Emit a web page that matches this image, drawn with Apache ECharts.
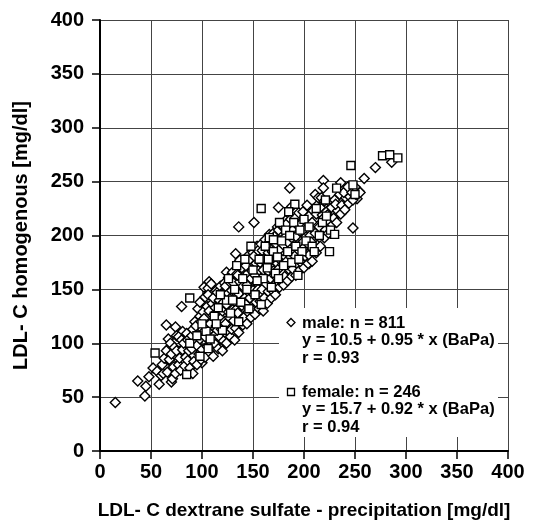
<!DOCTYPE html>
<html>
<head>
<meta charset="utf-8">
<script src="https://cdn.jsdelivr.net/npm/echarts@6/dist/echarts.min.js"></script>
<style>
  html, body { margin: 0; padding: 0; background: #fff; }
  #chart { width: 554px; height: 525px; }
</style>
</head>
<body>
<div id="chart"></div>
<script>
// axis ticks
var axisMin = 0
var axisMax = 400
var axisStep = 50

// male points
var malePoints = [
  [15,45],[37,65],[44,51],[45,60],[48,69],[52,77],[56,74],[58,62],[60,70],[65,117],
  [67,104],[67,95],[70,82],[70,64],[74,115],[75,107],[80,134],[81,111],[83,97],[96,132],
  [100,82],[102,152],[107,157],[124,166],[133,183],[136,208],[151,212],[175,226],[186,244],[188,227],
  [205,174],[211,238],[219,251],[219,244],[236,249],[238,222],[248,207],[248,242],[259,253],[270,263],
  [286,268],[252,234],[254,241],
  [62,72],[61,80],[63,86],[66,73],[68,85],[65,93],[69,100],[71,67],[72,78],[70,90],
  [73,96],[74,72],[77,80],[75,93],[77,106],[79,75],[78,86],[81,94],[80,103],[83,79],
  [84,87],[82,100],[85,109],[86,84],[88,77],[87,93],[86,103],[90,107],[91,72],[92,83],
  [90,95],[94,102],[91,113],[93,120],[95,80],[97,90],[95,98],[96,108],[94,116],[98,125],
  [99,85],[100,94],[98,104],[102,111],[99,120],[101,129],[98,138],[103,87],[105,97],[103,106],
  [104,115],[102,123],[105,134],[103,143],[106,151],[107,92],[109,99],[106,111],[108,118],[107,130],
  [110,137],[106,145],[109,155],[111,88],[113,99],[112,107],[114,116],[111,126],[113,133],[111,142],
  [114,149],[116,95],[117,106],[115,112],[118,124],[116,130],[117,140],[115,147],[118,153],[120,93],
  [121,102],[119,113],[122,120],[120,130],[121,138],[119,146],[122,156],[124,100],[125,111],[123,118],
  [126,129],[124,136],[125,147],[123,153],[126,161],[128,106],[129,113],[127,124],[130,131],[128,142],
  [129,149],[127,157],[130,166],[132,103],[133,114],[131,121],[134,132],[132,139],[133,150],[131,156],
  [134,164],[136,110],[137,121],[135,128],[138,139],[136,146],[137,157],[135,163],[138,171],[137,177],
  [140,117],[141,124],[139,135],[142,142],[140,153],[141,160],[139,170],[142,175],[144,118],[145,129],
  [143,136],[146,147],[144,154],[145,165],[143,172],[146,182],[148,124],[149,131],[147,142],[150,149],
  [148,160],[149,167],[147,178],[150,184],[152,127],[153,138],[151,145],[154,156],[152,163],[153,174],
  [151,181],[154,190],[156,132],[157,139],[155,150],[158,157],[156,168],[157,175],[155,186],[158,192],
  [160,130],[161,142],[159,150],[162,161],[160,168],[161,179],[159,186],[162,196],[164,137],[165,148],
  [163,155],[166,166],[164,173],[165,184],[163,191],[166,201],[168,142],[169,149],[167,160],[170,167],
  [168,178],[169,185],[167,196],[170,202],[172,145],[173,156],[171,163],[174,174],[172,181],[173,192],
  [171,199],[174,208],[176,152],[177,158],[175,169],[178,176],[176,187],[177,194],[175,205],[178,209],
  [180,154],[181,162],[179,173],[182,180],[180,191],[181,198],[179,209],[182,214],[184,158],[185,169],
  [183,176],[186,187],[184,194],[185,205],[183,211],[188,162],[189,169],[187,180],[190,187],[188,198],
  [189,205],[187,215],[192,163],[193,174],[191,181],[194,192],[192,199],[193,210],[191,216],[196,168],
  [197,175],[195,186],[198,193],[196,204],[197,211],[195,221],[200,170],[201,181],[199,188],[202,199],
  [200,206],[201,217],[199,222],[204,174],[205,182],[203,193],[206,200],[204,211],[205,218],[203,228],
  [208,176],[209,187],[207,194],[210,205],[208,212],[209,223],[212,184],[213,191],[211,202],[214,209],
  [212,220],[213,228],[214,235],[216,190],[217,201],[215,208],[218,219],[216,226],[217,235],[220,198],
  [221,205],[219,216],[222,222],[220,232],[224,202],[225,213],[223,219],[226,230],[228,210],[229,216],
  [227,226],[230,233],[232,212],[233,223],[231,229],[236,220],[237,228],[235,238],[240,224],[241,235],
  [239,240],[244,230],[245,236],[243,245],[248,233],[247,240],[251,238],[250,245],[255,240]
]

// female points
var femalePoints = [
  [54,91],[88,142],[85,71],[88,100],[104,111],[95,107],[100,118],[108,104],[112,125],[116,133],
  [120,112],[124,140],[128,128],[132,150],[136,120],[140,160],[138,138],[144,150],[146,132],[150,168],
  [148,190],[152,145],[156,178],[158,225],[160,160],[162,190],[164,170],[166,198],[168,152],[170,185],
  [172,165],[174,180],[176,212],[178,195],[180,172],[182,205],[184,185],[186,200],[188,175],[190,212],
  [191,229],[192,190],[194,163],[196,205],[198,185],[200,215],[202,195],[205,208],[208,190],[210,185],
  [212,225],[215,200],[218,212],[221,233],[222,218],[225,185],[226,205],[230,201],[232,244],[246,265],
  [248,247],[250,238],[277,274],[284,275],[292,272],[118,145],[126,160],[134,172],[142,178],[106,95],
  [98,88],[114,118],[130,140],[154,158],[165,178],[175,160],[185,222],[195,178],[158,136],[170,196]
]

// legend text
var maleLines = ['male: n = 811', 'y = 10.5 + 0.95 * x (BaPa)', 'r = 0.93']
var femaleLines = ['female: n = 246', 'y = 15.7 + 0.92 * x (BaPa)', 'r = 0.94']

var font = 'Liberation Sans, Arial, sans-serif'

function axis(name, gap, size) {
  return {
    type: 'value',
    min: axisMin,
    max: axisMax,
    interval: axisStep,
    name: name,
    nameLocation: 'middle',
    nameGap: gap,
    nameTextStyle: { color: '#000', fontWeight: 'bold', fontSize: size, fontFamily: font },
    axisLine: { show: true, onZero: false, lineStyle: { color: '#000', width: 2 } },
    axisTick: { show: true, length: 8, lineStyle: { color: '#000', width: 1.5 } },
    axisLabel: { color: '#000', fontWeight: 'bold', fontSize: 20, fontFamily: font },
    splitLine: { show: true, lineStyle: { color: '#444', width: 1 } }
  }
}

var xAxis = axis('LDL- C dextrane sulfate - precipitation [mg/dl]', 50, 19)
xAxis.axisLabel.margin = 11
var yAxis = axis('LDL- C homogenous [mg/dl]', 69, 20)
yAxis.axisLabel.margin = 16

function textLines(lines, y0) {
  return lines.map(function (t, i) {
    return {
      type: 'text',
      x: 302,
      y: y0 + i * 17.5,
      z: 11,
      style: { text: t, fill: '#000', font: 'bold 16.5px ' + font, verticalAlign: 'middle' }
    }
  })
}

var graphics = [
  { type: 'rect', z: 10, shape: { x: 279, y: 308, width: 219, height: 129 }, style: { fill: '#fff' } },
  { type: 'polygon', z: 11, shape: { points: [[291, 318.5], [295, 322.5], [291, 326.5], [287, 322.5]] },
    style: { fill: '#fff', stroke: '#000', lineWidth: 1.3 } },
  { type: 'rect', z: 11, shape: { x: 287.5, y: 388.5, width: 7, height: 7 },
    style: { fill: '#fff', stroke: '#000', lineWidth: 1.3 } }
].concat(textLines(maleLines, 323), textLines(femaleLines, 392))

var option = {
  backgroundColor: '#fff',
  animation: false,
  grid: { left: 100, right: 46, top: 20, bottom: 69 },
  xAxis: xAxis,
  yAxis: yAxis,
  graphic: graphics,
  series: [
    {
      name: 'male',
      type: 'scatter',
      symbol: 'diamond',
      symbolSize: 10,
      data: malePoints,
      itemStyle: { color: '#fff', borderColor: '#000', borderWidth: 1.4, opacity: 1 }
    },
    {
      name: 'female',
      type: 'scatter',
      symbol: 'rect',
      symbolSize: 8,
      data: femalePoints,
      itemStyle: { color: '#fff', borderColor: '#000', borderWidth: 1.4, opacity: 1 }
    }
  ]
}

echarts.init(document.getElementById('chart')).setOption(option)
</script>
</body>
</html>
